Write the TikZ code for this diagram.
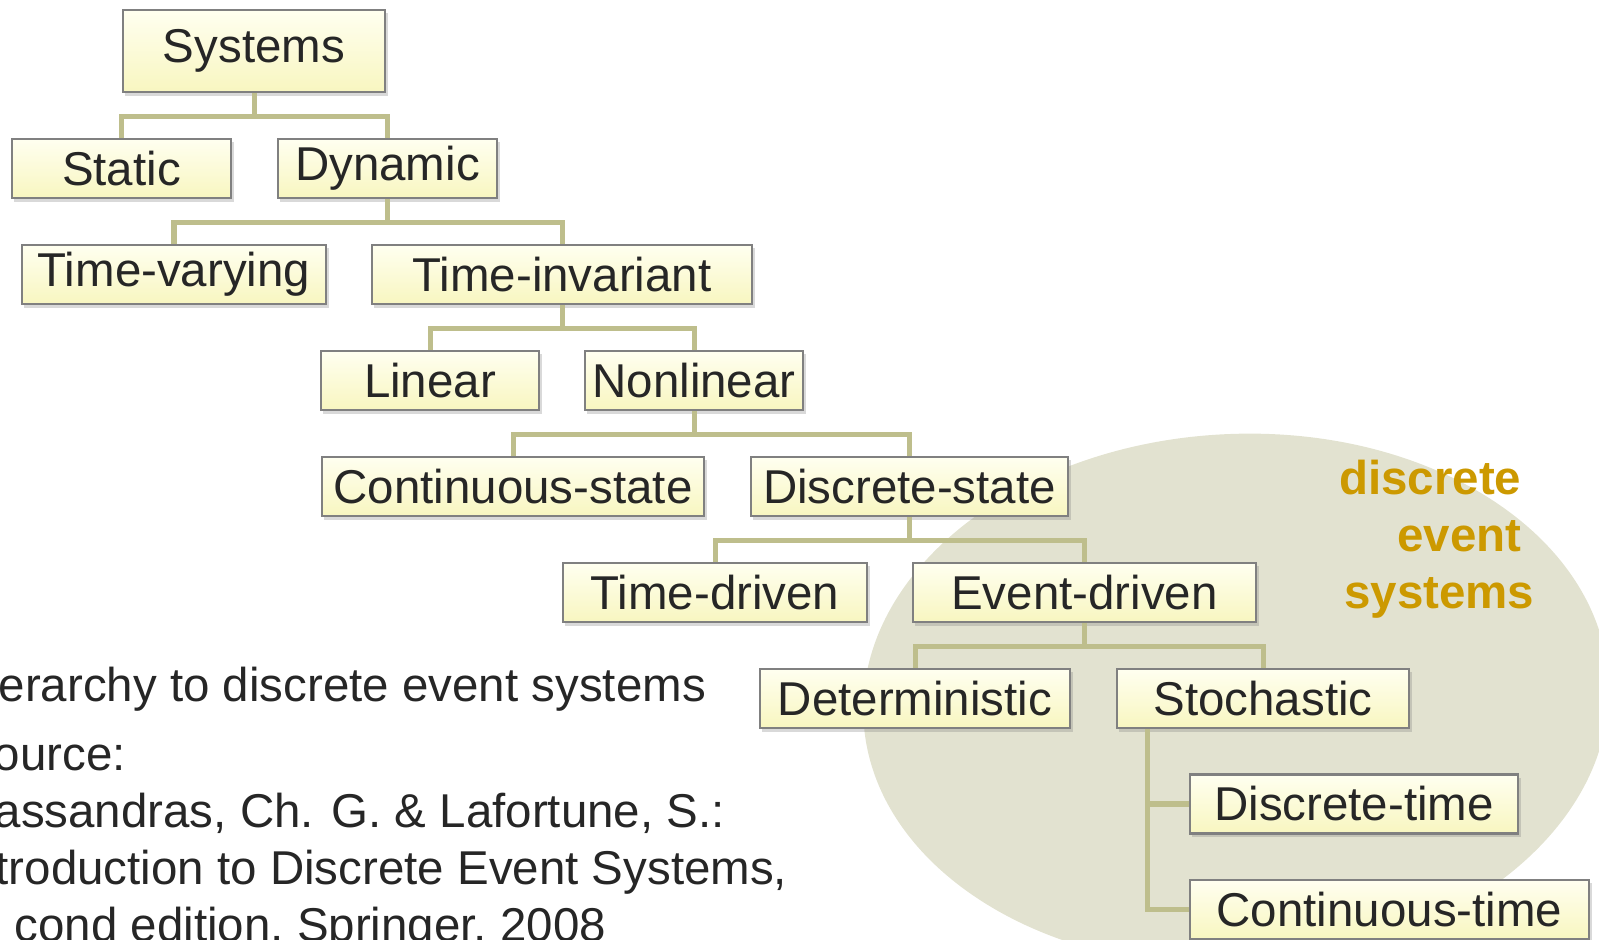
\documentclass[tikz,border=0pt]{standalone}
\usepackage{fontspec}
\setmainfont{Liberation Sans}
\usetikzlibrary{shadows}

\definecolor{ovalfill}{RGB}{226,226,208}
\definecolor{linkc}{RGB}{190,190,140}
\definecolor{boxline}{RGB}{128,128,128}
\definecolor{boxtop}{RGB}{255,255,240}
\definecolor{boxbot}{RGB}{248,246,192}
\definecolor{txt}{RGB}{38,38,38}
\definecolor{desc}{RGB}{204,153,0}

\begin{document}
\begin{tikzpicture}[
    x=0.01cm, y=-0.01cm,
    box/.style={rectangle, draw=boxline, line width=0.6pt, top color=boxtop, bottom color=boxbot,
        drop shadow={shadow xshift=0.025cm, shadow yshift=-0.035cm, opacity=0.3},
        minimum height=0.59cm, inner sep=0pt, text=txt, font=\fontsize{13.5}{16}\selectfont},
    link/.style={draw=linkc, line width=0.05cm},
    note/.style={anchor=base west, inner sep=0pt, text=txt, font=\fontsize{13.5}{16}\selectfont},
    deslabel/.style={anchor=north east, inner sep=0pt, align=right, text=desc,
        font=\bfseries\fontsize{13.5}{16.2}\selectfont}
]
\useasboundingbox (0,0) rectangle (1599,940);
\clip (0,0) rectangle (1599,940);

% background oval for the discrete event part
\fill[ovalfill, rotate around={3:(1236,700)}] (1236,700) ellipse [x radius=373, y radius=266];
\node[deslabel] (deslbl) at (1522,459) {discrete\\event\\systems\hspace*{-0.13cm}};

% hierarchy
\node[box, minimum width=2.62cm, minimum height=0.82cm] (sys) at (254,51) {Systems};
\node[box, minimum width=2.19cm] (stat) at (121.5,168.5) {Static};
\node[box, minimum width=2.19cm] (dyn) at (387.5,168.5) {Dynamic};
\node[box, minimum width=3.04cm] (tv) at (174,274.5) {Time-varying};
\node[box, minimum width=3.80cm] (ti) at (562,274.5) {Time-invariant};
\node[box, minimum width=2.18cm] (lin) at (430,380.5) {Linear};
\node[box, minimum width=2.18cm] (nonlin) at (694,380.5) {Nonlinear};
\node[box, minimum width=3.82cm] (cs) at (513,486.5) {Continuous-state};
\node[box, minimum width=3.17cm] (ds) at (909.5,486.5) {Discrete-state};
\node[box, minimum width=3.04cm] (td) at (715,592.5) {Time-driven};
\node[box, minimum width=3.43cm] (ed) at (1084.5,592.5) {Event-driven};
\node[box, minimum width=3.10cm] (det) at (915,698.5) {Deterministic};
\node[box, minimum width=2.92cm] (sto) at (1263,698.5) {Stochastic};
\node[box, minimum width=3.28cm] (dt) at (1354,804) {Discrete-time};
\node[box, minimum width=3.99cm] (ct) at (1389.5,909.5) {Continuous-time};

\foreach \p/\c in {sys/stat, sys/dyn, dyn/tv, dyn/ti, ti/lin, ti/nonlin,
                   nonlin/cs, nonlin/ds, ds/td, ds/ed, ed/det, ed/sto}
    \draw[link] (\p.south) -- ++(0,23.5) -| (\c.north);
\draw[link] (sto.south west) ++(32,0) |- (dt.west);
\draw[link] (sto.south west) ++(32,0) |- (ct.west);

% reference text
\node[note] (n1) at (-2,702) {erarchy to discrete event systems};
\node[note] (n2) at (-7,771) {ource:};
\node[note] (n3) at (-6,828) {assandras, Ch. G. \& Lafortune, S.:};
\node[note] (n4) at (-5,885) {troduction to Discrete Event Systems,};
\node[note] (n5) at (14,942) {cond edition, Springer, 2008};
\end{tikzpicture}
\end{document}
